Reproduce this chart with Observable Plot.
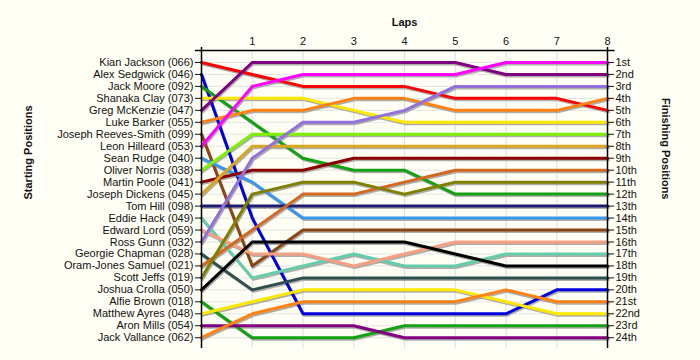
<!DOCTYPE html>
<html>
<head>
<meta charset="utf-8">
<script src="https://cdn.jsdelivr.net/npm/d3@7"></script>
<script src="https://cdn.jsdelivr.net/npm/@observablehq/plot@0.6"></script>
<style>
  html, body { margin: 0; padding: 0; background: #fffff5; }
</style>
</head>
<body>
<div id="chart"></div>
<script>
// Riders in starting order
const riders = [
  "Kian Jackson (066)", "Alex Sedgwick (046)", "Jack Moore (092)", "Shanaka Clay (073)",
  "Greg McKenzie (047)", "Luke Barker (055)", "Joseph Reeves-Smith (099)", "Leon Hilleard (053)",
  "Sean Rudge (040)", "Oliver Norris (038)", "Martin Poole (041)", "Joseph Dickens (045)",
  "Tom Hill (098)", "Eddie Hack (049)", "Edward Lord (059)", "Ross Gunn (032)",
  "Georgie Chapman (028)", "Oram-Jones Samuel (021)", "Scott Jeffs (019)", "Joshua Crolla (050)",
  "Alfie Brown (018)", "Matthew Ayres (048)", "Aron Mills (054)", "Jack Vallance (062)"
];
const laps = [0, 1, 2, 3, 4, 5, 6, 7, 8];
const lapLabels = [1, 2, 3, 4, 5, 6, 7, 8];
const finishLabels = ["1st","2nd","3rd","4th","5th","6th","7th","8th","9th","10th","11th","12th",
  "13th","14th","15th","16th","17th","18th","19th","20th","21st","22nd","23rd","24th"];

// Position of each rider after each lap (lap 0 = start)
const kianJackson      = [1, 2, 3, 3, 3, 4, 4, 4, 5];
const alexSedgwick     = [2, 14, 22, 22, 22, 22, 22, 20, 20];
const jackMoore        = [3, 6, 9, 10, 10, 12, 12, 12, 12];
const shanakaClay      = [4, 4, 4, 5, 6, 6, 6, 6, 6];
const gregMcKenzie     = [5, 1, 1, 1, 1, 1, 2, 2, 2];
const lukeBarker       = [6, 5, 5, 4, 4, 5, 5, 5, 4];
const josephReeves     = [7, 18, 15, 15, 15, 15, 15, 15, 15];
const leonHilleard     = [8, 3, 2, 2, 2, 2, 1, 1, 1];
const seanRudge        = [9, 11, 14, 14, 14, 14, 14, 14, 14];
const oliverNorris     = [10, 7, 7, 7, 7, 7, 7, 7, 7];
const martinPoole      = [11, 10, 10, 9, 9, 9, 9, 9, 9];
const josephDickens    = [12, 8, 8, 8, 8, 8, 8, 8, 8];
const tomHill          = [13, 13, 13, 13, 13, 13, 13, 13, 13];
const eddieHack        = [14, 19, 18, 17, 18, 18, 17, 17, 17];
const edwardLord       = [15, 17, 17, 18, 17, 16, 16, 16, 16];
const rossGunn         = [16, 9, 6, 6, 5, 3, 3, 3, 3];
const georgieChapman   = [17, 20, 19, 19, 19, 19, 19, 19, 19];
const oramJonesSamuel  = [18, 15, 12, 12, 11, 10, 10, 10, 10];
const scottJeffs       = [19, 12, 11, 11, 12, 11, 11, 11, 11];
const joshuaCrolla     = [20, 16, 16, 16, 16, 17, 18, 18, 18];
const alfieBrown       = [21, 24, 24, 24, 23, 23, 23, 23, 23];
const matthewAyres     = [22, 21, 20, 20, 20, 20, 21, 22, 22];
const aronMills        = [23, 23, 23, 23, 24, 24, 24, 24, 24];
const jackVallance     = [24, 22, 21, 21, 21, 21, 20, 21, 21];

const positions = [
  kianJackson, alexSedgwick, jackMoore, shanakaClay, gregMcKenzie, lukeBarker,
  josephReeves, leonHilleard, seanRudge, oliverNorris, martinPoole, josephDickens,
  tomHill, eddieHack, edwardLord, rossGunn, georgieChapman, oramJonesSamuel,
  scottJeffs, joshuaCrolla, alfieBrown, matthewAyres, aronMills, jackVallance
];

const colors = [
  "#ff0000", "#0000dd", "#13a013", "#ffe800", "#800080", "#ff8214",
  "#8b4513", "#ff00ff", "#3a96ea", "#7ff000", "#8b0000", "#daa520",
  "#1c1c74", "#66cdaa", "#f6a083", "#9370db", "#2f4f4f", "#d2691e",
  "#808000", "#000000", "#13a013", "#ffe800", "#800080", "#ff8214"
];

const rows = [];
riders.forEach((r, i) => {
  laps.forEach((l, j) => rows.push({rider: r, lap: l, pos: positions[i][j], color: colors[i]}));
});
const posTicks = d3.range(1, 25);

const chart = Plot.plot({
  width: 700,
  height: 360,
  marginTop: 50,
  marginBottom: 12,
  marginLeft: 201,
  marginRight: 93,
  style: {background: "#fffff5", fontFamily: "'Liberation Sans', Arial, sans-serif", fontSize: "11px", color: "#111"},
  x: {domain: [0, 8], range: [201, 607]},
  y: {domain: [0, 24.9], range: [50, 348]},
  marks: [
    // grid
    Plot.ruleY(posTicks, {x1: 0, x2: 8, stroke: "#e4e4e4", strokeWidth: 1}),
    Plot.ruleX(lapLabels, {y1: 0, y2: 24.9, stroke: "#dedede", strokeWidth: 1}),
    // shadows
    Plot.line(rows, {x: "lap", y: "pos", z: "rider", stroke: "#9a9a9a", strokeWidth: 3, dx: 1, dy: 1.5, strokeOpacity: 0.8}),
    // lines
    Plot.line(rows, {x: "lap", y: "pos", z: "rider", stroke: "color", strokeWidth: 3}),
    // axis lines
    Plot.ruleY([0], {x1: -0.12, x2: 8.15, stroke: "#000", strokeWidth: 1.5}),
    Plot.ruleX([0], {y1: -0.25, y2: 24.9, stroke: "#000", strokeWidth: 1.5}),
    Plot.ruleX([8], {y1: -0.25, y2: 24.9, stroke: "#000", strokeWidth: 1.5}),
    Plot.axisX(lapLabels, {anchor: "top", tickSize: 0, tickPadding: 6, fontSize: 11, label: null}),
    Plot.axisY(posTicks, {anchor: "left", tickSize: 6, tickPadding: 2, fontSize: 11,
      tickFormat: p => riders[p - 1], label: null}),
    Plot.axisY(posTicks, {anchor: "right", tickSize: 6, tickPadding: 2, fontSize: 11,
      tickFormat: p => finishLabels[p - 1], label: null}),
    // titles
    Plot.text(["Laps"], {frameAnchor: "top", dy: -32, fontWeight: "bold", fontSize: 11}),
    Plot.text(["Starting Positions"], {frameAnchor: "left", dx: -173, rotate: -90, fontWeight: "bold", fontSize: 11}),
    Plot.text(["Finishing Positions"], {frameAnchor: "right", dx: 58, rotate: 90, fontWeight: "bold", fontSize: 11})
  ]
});
document.getElementById("chart").appendChild(chart);
</script>
</body>
</html>
